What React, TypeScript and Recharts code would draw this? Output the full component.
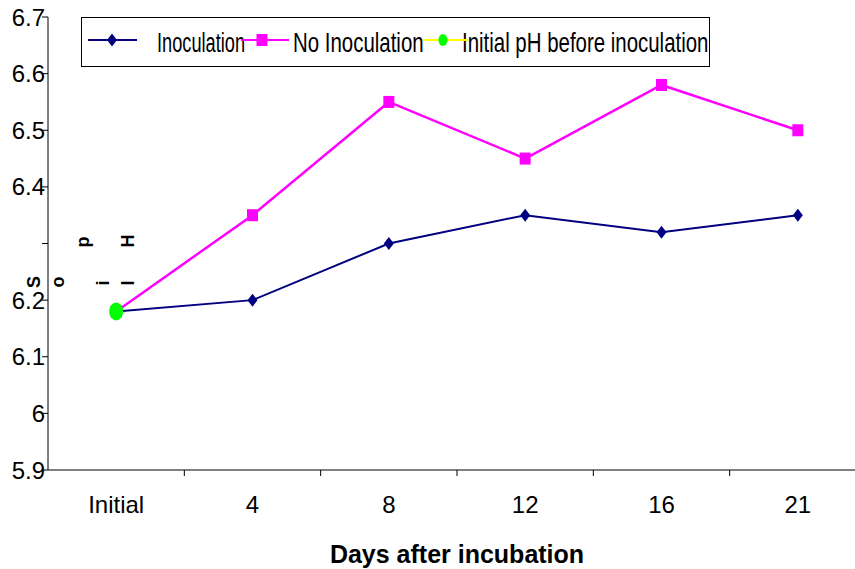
import { ComposedChart, Line, XAxis, YAxis, Legend } from 'recharts';

const categories = ['Initial', '4', '8', '12', '16', '21'];
const inoculation = [6.18, 6.2, 6.3, 6.35, 6.32, 6.35];
const noInoculation = [6.18, 6.35, 6.55, 6.45, 6.58, 6.5];
const initialPh = [6.18, null, null, null, null, null];
const yTicks = [5.9, 6.0, 6.1, 6.2, 6.3, 6.4, 6.5, 6.6, 6.7];
const hiddenTickLabel = 6.3;

// the axis title came out scrambled in the source image, letters placed one by one
const yTitleLetters = [
  { ch: 'S', x: 34, y: 282 },
  { ch: 'o', x: 58, y: 282 },
  { ch: 'i', x: 103, y: 283 },
  { ch: 'l', x: 128, y: 283 },
  { ch: 'p', x: 83, y: 242 },
  { ch: 'H', x: 128, y: 241 },
];

const NAVY = '#000080';
const MAGENTA = '#FF00FF';
const GREEN = '#00FF00';
const YELLOW = '#FFFF00';
const FONT = 'Arial, "Liberation Sans", sans-serif';

const W = 880;
const H = 569;
const MARGIN = { top: 17, right: 14, bottom: 0, left: 0 };
const Y_AXIS_W = 48;
const X_AXIS_H = 99;
const band = (W - MARGIN.right - MARGIN.left - Y_AXIS_W) / categories.length;

const data = categories.map((day, i) => ({
  day,
  inoculation: inoculation[i],
  noInoculation: noInoculation[i],
  initialPh: initialPh[i],
}));

const diamondPath = (cx: number, cy: number) =>
  `M${cx},${cy - 6.5}L${cx + 5},${cy}L${cx},${cy + 6.5}L${cx - 5},${cy}Z`;

const DiamondDot = (props: any) => {
  const { cx, cy, index } = props;
  if (cx == null || cy == null) return <g key={`dd${index}`} />;
  return <path key={`dd${index}`} d={diamondPath(cx, cy)} fill={NAVY} />;
};

const SquareDot = (props: any) => {
  const { cx, cy, index } = props;
  if (cx == null || cy == null) return <g key={`sq${index}`} />;
  return <rect key={`sq${index}`} x={cx - 5.5} y={cy - 6} width={11} height={12} fill={MAGENTA} />;
};

const CircleDot = (props: any) => {
  const { cx, cy, index } = props;
  if (cx == null || cy == null) return <g key={`ci${index}`} />;
  return <ellipse key={`ci${index}`} cx={cx} cy={cy} rx={7} ry={9} fill={GREEN} />;
};

const XTick = (props: any) => {
  const { x, y, payload } = props;
  return (
    <g>
      <line x1={x + band / 2} y1={y} x2={x + band / 2} y2={y + 6} stroke="#000" />
      <text x={x} y={y + 43} textAnchor="middle" fontSize={24} fontFamily={FONT} fill="#000">
        {payload.value}
      </text>
    </g>
  );
};

const legendItems = [
  { name: 'Inoculation', color: NAVY, marker: 'diamond', x1: 7, x2: 56, mx: 31, tx: 76, sx: 0.65 },
  { name: 'No Inoculation', color: MAGENTA, marker: 'square', x1: 160, x2: 208, mx: 181, tx: 212, sx: 0.73 },
  { name: 'Initial pH before inoculation', color: YELLOW, marker: 'circle', x1: 342, x2: 387, mx: 362, tx: 381, sx: 0.73 },
];

const LegendBox = () => (
  <svg width={629} height={50} style={{ display: 'block' }}>
    <rect x={0.5} y={0.5} width={628} height={49} fill="#fff" stroke="#000" />
    {legendItems.map((it) => (
      <g key={it.name}>
        <text
          transform={`translate(${it.tx},35) scale(${it.sx},1)`}
          fontSize={28}
          fontFamily={FONT}
          fill="#000"
        >
          {it.name}
        </text>
        <line x1={it.x1} y1={23} x2={it.x2} y2={23} stroke={it.color} strokeWidth={2} />
        {it.marker === 'diamond' && <path d={diamondPath(it.mx, 23)} fill={NAVY} />}
        {it.marker === 'square' && <rect x={it.mx - 5.5} y={17} width={11} height={12} fill={MAGENTA} />}
        {it.marker === 'circle' && <ellipse cx={it.mx} cy={23} rx={4.5} ry={6} fill={GREEN} />}
      </g>
    ))}
  </svg>
);

const YTitle = () => (
  <g>
    {yTitleLetters.map((l, i) => (
      <g key={i} transform={`translate(${l.x},${l.y}) rotate(-90)`}>
        <text
          x={0}
          y={0}
          textAnchor="middle"
          dominantBaseline="central"
          fontSize={18}
          fontWeight="bold"
          fontFamily={FONT}
          fill="#000"
        >
          {l.ch}
        </text>
      </g>
    ))}
  </g>
);

const XTitle = (props: any) => {
  const vb = props.viewBox || { x: 0, y: 0, width: 0, height: 0 };
  return (
    <text
      x={vb.x + vb.width / 2}
      y={vb.y + 93}
      textAnchor="middle"
      fontSize={25}
      fontWeight="bold"
      fontFamily={FONT}
      fill="#000"
    >
      Days after incubation
    </text>
  );
};

export default function App() {
  return (
    <div
      style={{
        position: 'absolute',
        left: 0,
        top: 0,
        width: 855,
        height: 569,
        overflow: 'hidden',
        background: '#fff',
      }}
    >
      <ComposedChart width={W} height={H} data={data} margin={MARGIN}>
        <XAxis
          dataKey="day"
          height={X_AXIS_H}
          stroke="#000"
          padding={{ left: band / 2, right: band / 2 }}
          tickLine={false}
          tickSize={0}
          tickMargin={0}
          tick={<XTick />}
          interval={0}
          label={{ content: <XTitle /> }}
        />
        <YAxis
          width={Y_AXIS_W}
          domain={[5.9, 6.7]}
          ticks={yTicks}
          interval={0}
          stroke="#000"
          tickSize={6}
          tickMargin={-3}
          tick={{ fill: '#000', fontSize: 24, fontFamily: FONT }}
          tickFormatter={(v: number) =>
            Math.abs(v - hiddenTickLabel) < 1e-6 ? '' : String(Number(v.toFixed(1)))
          }
          label={{ content: <YTitle /> }}
        />
        <Legend
          layout="horizontal"
          verticalAlign="middle"
          align="center"
          wrapperStyle={{ left: 81, top: 17, width: 629, height: 50 }}
          content={<LegendBox />}
        />
        <Line
          dataKey="inoculation"
          stroke={NAVY}
          strokeWidth={2}
          dot={DiamondDot}
          activeDot={false}
          isAnimationActive={false}
        />
        <Line
          dataKey="noInoculation"
          stroke={MAGENTA}
          strokeWidth={2.5}
          dot={SquareDot}
          activeDot={false}
          isAnimationActive={false}
        />
        <Line
          dataKey="initialPh"
          stroke={YELLOW}
          strokeWidth={2}
          dot={CircleDot}
          activeDot={false}
          isAnimationActive={false}
        />
      </ComposedChart>
    </div>
  );
}
